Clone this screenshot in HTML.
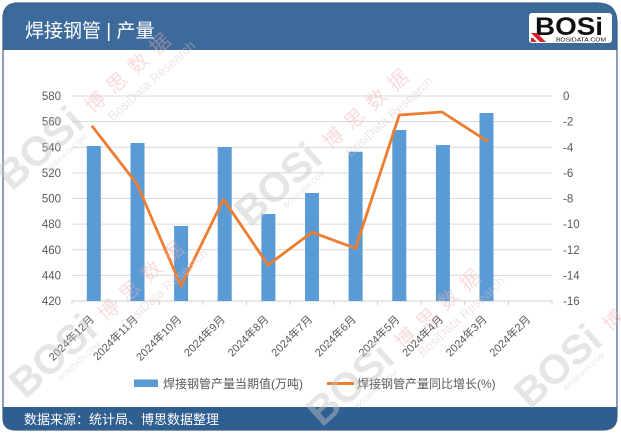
<!DOCTYPE html>
<html>
<head>
<meta charset="utf-8">
<style>
html,body{margin:0;padding:0;background:#fff;}
svg{display:block;}
text{font-family:"Liberation Sans","Noto Sans CJK SC",sans-serif;}
</style>
</head>
<body>
<svg width="621" height="434" viewBox="0 0 621 434" xmlns="http://www.w3.org/2000/svg">
<defs>
<clipPath id="card">
<path d="M18,3 H597 Q617,3 617,23 V416 Q617,430 603,430 H15 Q3,430 3,418 V18 Q3,3 18,3 Z"/>
</clipPath>
</defs>
<rect width="621" height="434" fill="#fff"/>
<g clip-path="url(#card)">
<rect x="0" y="0" width="621" height="434" fill="#fff"/>
<rect x="0" y="0" width="621" height="50" fill="#3c6a9b"/>
<rect x="0" y="407" width="621" height="30" fill="#2f5e91"/>
</g>
<path d="M18,3 H597 Q617,3 617,23 V416 Q617,430 603,430 H15 Q3,430 3,418 V18 Q3,3 18,3 Z" fill="none" stroke="#3d5f86" stroke-width="1.2"/>

<!-- title -->
<text x="25" y="37" font-size="19" fill="#ffffff">焊接钢管 | 产量</text>

<!-- logo -->
<rect x="529" y="13" width="83" height="30" rx="3" fill="#ffffff"/>
<text x="535" y="35" font-size="25" font-weight="bold" fill="#111" textLength="68" lengthAdjust="spacingAndGlyphs">BOSi</text>
<polygon points="531,33 537,33 546,42 540,42" fill="#d4232b"/>
<polygon points="531,38 533,38 537,42 531,42" fill="#d4232b"/>
<text x="556" y="41.5" font-size="5.5" fill="#111" textLength="50" lengthAdjust="spacingAndGlyphs">BOSIDATA.COM</text>

<!-- gridlines -->
<g stroke="#d9d9d9" stroke-width="1">
<line x1="72" y1="96" x2="552" y2="96"/>
<line x1="72" y1="121.6" x2="552" y2="121.6"/>
<line x1="72" y1="147.3" x2="552" y2="147.3"/>
<line x1="72" y1="172.9" x2="552" y2="172.9"/>
<line x1="72" y1="198.5" x2="552" y2="198.5"/>
<line x1="72" y1="224.1" x2="552" y2="224.1"/>
<line x1="72" y1="249.8" x2="552" y2="249.8"/>
<line x1="72" y1="275.4" x2="552" y2="275.4"/>
</g>
<line x1="72" y1="301" x2="552" y2="301" stroke="#cfcfcf" stroke-width="1"/>
<g stroke="#cfcfcf" stroke-width="1">
<line x1="72" y1="301" x2="72" y2="305"/>
<line x1="115.6" y1="301" x2="115.6" y2="305"/>
<line x1="159.3" y1="301" x2="159.3" y2="305"/>
<line x1="202.9" y1="301" x2="202.9" y2="305"/>
<line x1="246.5" y1="301" x2="246.5" y2="305"/>
<line x1="290.2" y1="301" x2="290.2" y2="305"/>
<line x1="333.8" y1="301" x2="333.8" y2="305"/>
<line x1="377.5" y1="301" x2="377.5" y2="305"/>
<line x1="421.1" y1="301" x2="421.1" y2="305"/>
<line x1="464.7" y1="301" x2="464.7" y2="305"/>
<line x1="508.4" y1="301" x2="508.4" y2="305"/>
<line x1="552" y1="301" x2="552" y2="305"/>
</g>

<!-- left axis labels -->
<g font-size="11.5" fill="#595959" text-anchor="end">
<text x="61" y="100">580</text>
<text x="61" y="125.6">560</text>
<text x="61" y="151.3">540</text>
<text x="61" y="176.9">520</text>
<text x="61" y="202.5">500</text>
<text x="61" y="228.1">480</text>
<text x="61" y="253.8">460</text>
<text x="61" y="279.4">440</text>
<text x="61" y="305">420</text>
</g>
<!-- right axis labels -->
<g font-size="11.5" fill="#595959">
<text x="563" y="100">0</text>
<text x="563" y="125.6">-2</text>
<text x="563" y="151.3">-4</text>
<text x="563" y="176.9">-6</text>
<text x="563" y="202.5">-8</text>
<text x="563" y="228.1">-10</text>
<text x="563" y="253.8">-12</text>
<text x="563" y="279.4">-14</text>
<text x="563" y="305">-16</text>
</g>

<!-- bars -->
<g fill="#5b9bd5">
<rect x="86.8" y="146" width="14" height="155"/>
<rect x="130.5" y="143" width="14" height="158"/>
<rect x="174.1" y="226" width="14" height="75"/>
<rect x="217.7" y="147" width="14" height="154"/>
<rect x="261.4" y="214" width="14" height="87"/>
<rect x="305" y="193" width="14" height="108"/>
<rect x="348.6" y="151.7" width="14" height="149.3"/>
<rect x="392.3" y="130" width="14" height="171"/>
<rect x="435.9" y="145" width="14" height="156"/>
<rect x="479.5" y="113" width="14" height="188"/>
</g>

<!-- line -->
<polyline points="92.5,126.7 137,184 181,286 223.5,199.3 268,265 312,232.3 355.5,248.3 399.3,115 442,112 487,141" fill="none" stroke="#ed7d31" stroke-width="2.8" stroke-linejoin="round" stroke-linecap="round"/>

<!-- x labels -->
<g font-size="11" fill="#595959" text-anchor="end">
<text transform="translate(94.8,320) rotate(-45)">2024年12月</text>
<text transform="translate(138.5,320) rotate(-45)">2024年11月</text>
<text transform="translate(182.1,320) rotate(-45)">2024年10月</text>
<text transform="translate(225.7,320) rotate(-45)">2024年9月</text>
<text transform="translate(269.4,320) rotate(-45)">2024年8月</text>
<text transform="translate(313,320) rotate(-45)">2024年7月</text>
<text transform="translate(356.6,320) rotate(-45)">2024年6月</text>
<text transform="translate(400.3,320) rotate(-45)">2024年5月</text>
<text transform="translate(443.9,320) rotate(-45)">2024年4月</text>
<text transform="translate(487.5,320) rotate(-45)">2024年3月</text>
<text transform="translate(531.2,320) rotate(-45)">2024年2月</text>
</g>

<!-- legend -->
<rect x="134" y="379.5" width="24" height="7.5" fill="#5b9bd5"/>
<text x="163" y="388" font-size="12" fill="#595959">焊接钢管产量当期值(万吨)</text>
<line x1="327" y1="383.5" x2="354" y2="383.5" stroke="#ed7d31" stroke-width="3"/>
<text x="357" y="388" font-size="12" fill="#595959">焊接钢管产量同比增长(%)</text>

<!-- footer -->
<text x="24" y="424" font-size="13" fill="#ffffff">数据来源：统计局、博思数据整理</text>

<!-- watermarks -->
<g opacity="0.45">
<g transform="translate(12,192) rotate(-42)">
<text x="0" y="0" font-size="41" font-weight="bold" fill="#c4c4c4">BOSi</text>
<text x="40" y="10" font-size="7" fill="#c4c4c4">BOSIDATA.COM</text>
<text x="112" y="-4" font-size="20" fill="#f0b0b0" letter-spacing="9">博思数据</text>
<text x="122" y="15" font-size="13" fill="#e0c4c4">BosiData Research</text>
</g>
<g transform="translate(250,228) rotate(-42)">
<text x="0" y="0" font-size="41" font-weight="bold" fill="#c4c4c4">BOSi</text>
<text x="40" y="10" font-size="7" fill="#c4c4c4">BOSIDATA.COM</text>
<text x="112" y="-4" font-size="20" fill="#f0b0b0" letter-spacing="9">博思数据</text>
<text x="122" y="15" font-size="13" fill="#e0c4c4">BosiData Research</text>
</g>
<g transform="translate(322,428) rotate(-42)">
<text x="0" y="0" font-size="41" font-weight="bold" fill="#c4c4c4">BOSi</text>
<text x="40" y="10" font-size="7" fill="#c4c4c4">BOSIDATA.COM</text>
<text x="112" y="-4" font-size="20" fill="#f0b0b0" letter-spacing="9">博思数据</text>
<text x="122" y="15" font-size="13" fill="#e0c4c4">BosiData Research</text>
</g>
<g transform="translate(530,410) rotate(-42)">
<text x="0" y="0" font-size="41" font-weight="bold" fill="#c4c4c4">BOSi</text>
<text x="40" y="10" font-size="7" fill="#c4c4c4">BOSIDATA.COM</text>
<text x="112" y="-4" font-size="20" fill="#f0b0b0" letter-spacing="9">博思数据</text>
</g>
<g transform="translate(25,400) rotate(-42)">
<text x="0" y="0" font-size="41" font-weight="bold" fill="#c4c4c4">BOSi</text>
<text x="40" y="10" font-size="7" fill="#c4c4c4">BOSIDATA.COM</text>
<text x="112" y="-4" font-size="20" fill="#f0b0b0" letter-spacing="9">博思数据</text>
<text x="122" y="15" font-size="13" fill="#e0c4c4">BosiData Research</text>
</g>
</g>
</svg>
</body>
</html>
